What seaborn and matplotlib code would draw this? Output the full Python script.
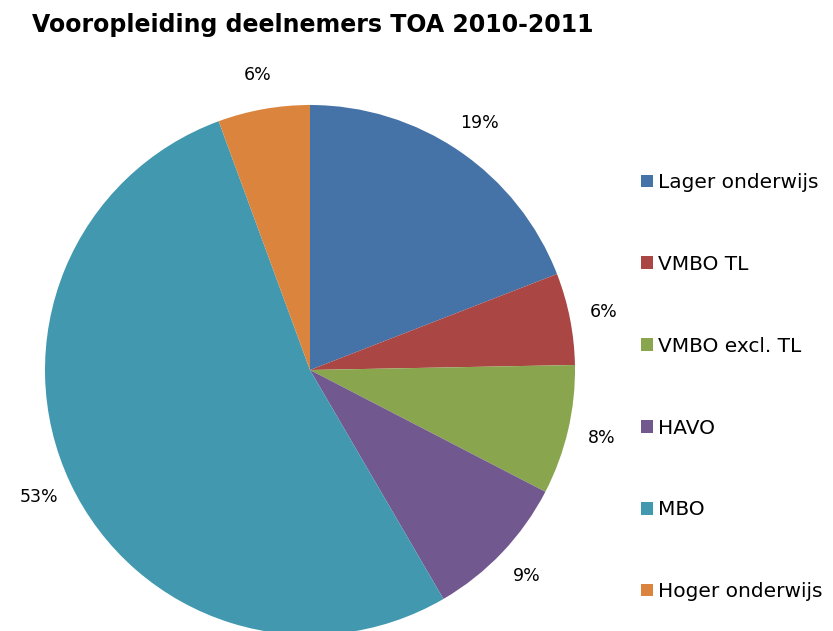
import matplotlib
matplotlib.use("Agg")
import matplotlib.pyplot as plt
import seaborn as sns
from matplotlib.patches import Patch

categories = ["Lager onderwijs", "VMBO TL", "VMBO excl. TL", "HAVO", "MBO", "Hoger onderwijs"]
values = [19.1, 5.6, 7.9, 9.0, 52.8, 5.6]
colors = ["#4572A7", "#AA4643", "#89A54E", "#71588F", "#4198AF", "#DB843D"]
title = "Vooropleiding deelnemers TOA 2010-2011"

sns.set_theme(style="white")
plt.rcParams['font.family'] = ['DejaVu Sans']
plt.rcParams['text.color'] = 'black'
palette = sns.color_palette(colors)

W, H = 833, 631
fig = plt.figure(figsize=(W/100, H/100), dpi=100)
cx, cy, r = 310, 370, 265
ax = fig.add_axes([(cx - r)/W, (H - cy - r)/H, 2*r/W, 2*r/H])
wedges, texts, autotexts = ax.pie(values, colors=palette, startangle=90, counterclock=False,
                                  radius=1, autopct='%.0f%%', pctdistance=1.13,
                                  wedgeprops=dict(linewidth=0, edgecolor='none'),
                                  textprops=dict(fontsize=12.5, color='black'))
ax.set_xlim(-1, 1)
ax.set_ylim(-1, 1)
ax.set_aspect('auto')
ax.axis('off')

fig.text(32/W, 1 - 25/H, title, fontsize=17, fontweight='bold', ha='left', va='center',
         color='black')

handles = [Patch(facecolor=c, edgecolor='none') for c in palette]
leg = fig.legend(handles, categories, loc='upper left', bbox_to_anchor=(641/W, 1 - 173/H),
                 frameon=False, fontsize=14.5, handlelength=0.6, handleheight=0.6,
                 handletextpad=0.25, labelspacing=3.12, borderaxespad=0, borderpad=0)
for t in leg.get_texts():
    t.set_color('black')

fig.savefig("out.png", dpi=100)
